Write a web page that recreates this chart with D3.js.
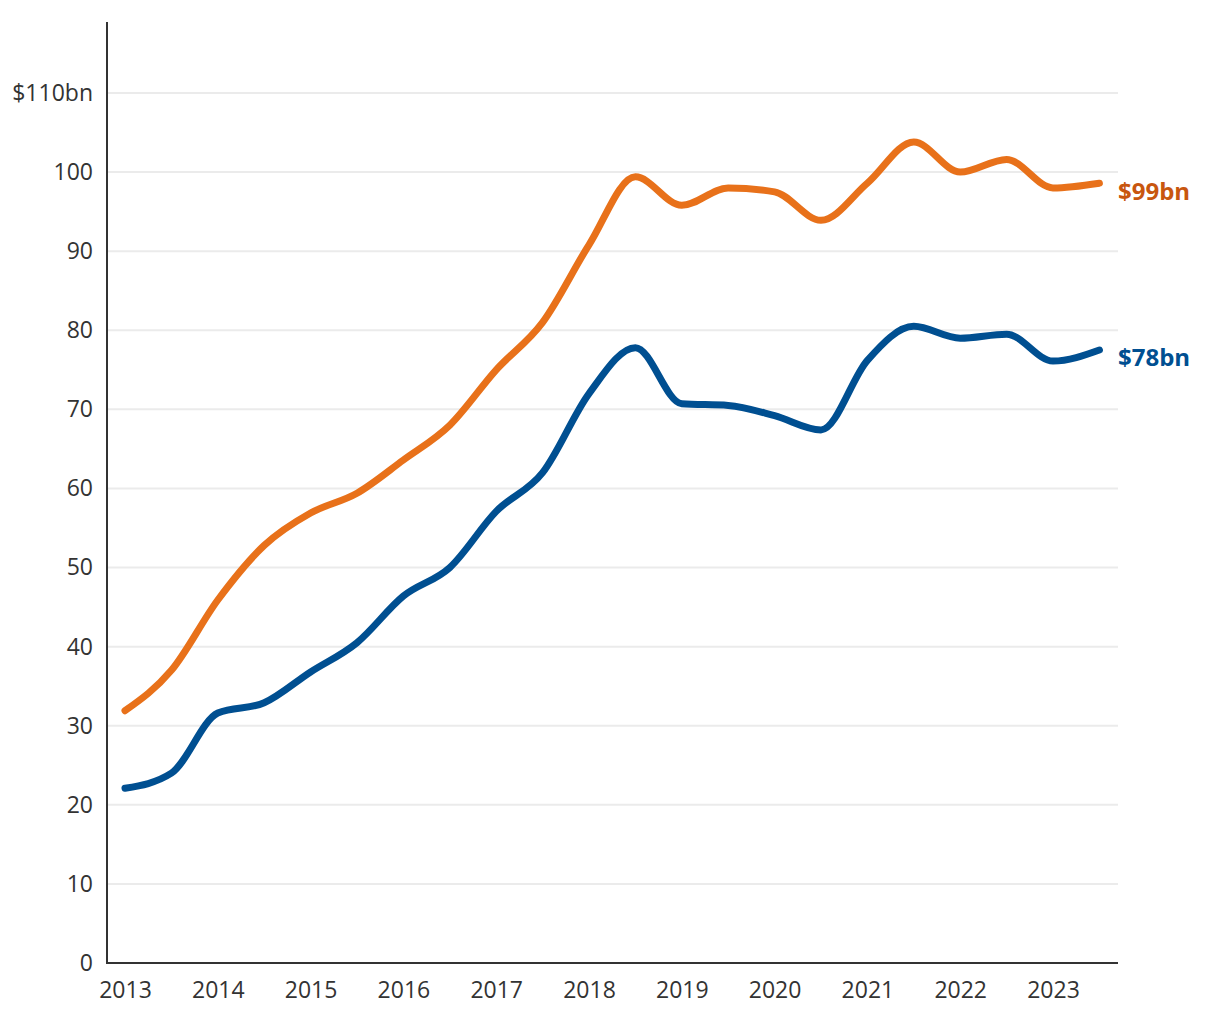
<!DOCTYPE html>
<html><head><meta charset="utf-8">
<script src="https://cdn.jsdelivr.net/npm/d3@7"></script>
<style>
body{margin:0;background:#fff;}
text{font-family:"Open Sans","Noto Sans",sans-serif;}
</style></head>
<body><svg id="c" width="1220" height="1020"></svg>
<script>
const periods = [2013,2013.5,2014,2014.5,2015,2015.5,2016,2016.5,2017,2017.5,2018,2018.5,2019,2019.5,2020,2020.5,2021,2021.5,2022,2022.5,2023,2023.5];
const orangeValues = [31.9,37,45.9,52.8,56.9,59.4,63.6,68,75,81,90.8,99.4,95.8,98,97.5,93.9,98.6,103.8,100,101.6,98,98.6];
const blueValues = [22.1,24,31.6,32.9,36.8,40.5,46.4,50,57.1,62,72,77.8,70.7,70.5,69.2,67.4,76.2,80.5,79,79.5,76.1,77.5];
const yTicks = [0,10,20,30,40,50,60,70,80,90,100,110];
const xTicks = [2013,2014,2015,2016,2017,2018,2019,2020,2021,2022,2023];
const orangeLabel = "$99bn";
const blueLabel = "$78bn";

(function(){
const svg = d3.select("#c");
const x = d3.scaleLinear().domain([2013,2023]).range([125,1053]);
const y = d3.scaleLinear().domain([0,110]).range([963,93]);
const pLeft = 107, pRight = 1118, pTop = 22, pBottom = 963;

// gridlines
svg.append("g").selectAll("line").data(yTicks.filter(d=>d>0)).join("line")
  .attr("x1",pLeft).attr("x2",pRight).attr("y1",d=>y(d)).attr("y2",d=>y(d))
  .attr("stroke","#ebebeb").attr("stroke-width",2);

// y labels
const yAxis = d3.axisLeft(y).tickValues(yTicks).tickSize(0).tickPadding(14)
  .tickFormat(d=> d===110 ? "$110bn" : d);
const gy = svg.append("g").attr("transform",`translate(${pLeft},0)`).call(yAxis);
gy.select(".domain").remove();
gy.selectAll("text").attr("font-size",23).attr("fill","#333").attr("font-family","'Open Sans',sans-serif");

// x labels
const xAxis = d3.axisBottom(x).tickValues(xTicks).tickSize(0).tickPadding(18.5).tickFormat(d3.format("d"));
const gx = svg.append("g").attr("transform",`translate(0,${pBottom})`).call(xAxis);
gx.select(".domain").remove();
gx.selectAll("text").attr("font-size",23).attr("fill","#333").attr("font-family","'Open Sans',sans-serif");

// axis lines
svg.append("line").attr("x1",pLeft).attr("x2",pLeft).attr("y1",pTop).attr("y2",pBottom+1).attr("stroke","#333").attr("stroke-width",2);
svg.append("line").attr("x1",pLeft-1).attr("x2",pRight).attr("y1",pBottom).attr("y2",pBottom).attr("stroke","#333").attr("stroke-width",2);

const line = d3.line().x(d=>x(d[0])).y(d=>y(d[1])).curve(d3.curveMonotoneX);
const series = [
  {vals: orangeValues, color:"#e8711a", label: orangeLabel, lc:"#c8560f"},
  {vals: blueValues, color:"#004f91", label: blueLabel, lc:"#004f91"}
];
series.forEach(s=>{
  const pts = periods.map((p,i)=>[p,s.vals[i]]);
  svg.append("path").attr("d",line(pts)).attr("fill","none").attr("stroke",s.color)
    .attr("stroke-width",7).attr("stroke-linecap","round").attr("stroke-linejoin","round");
  const last = pts[pts.length-1];
  svg.append("text").attr("x",pRight).attr("y",y(last[1])+8).attr("dy","0.35em")
    .attr("font-size",24).attr("font-weight","bold").attr("fill",s.lc).text(s.label);
});
})();
</script></body></html>
